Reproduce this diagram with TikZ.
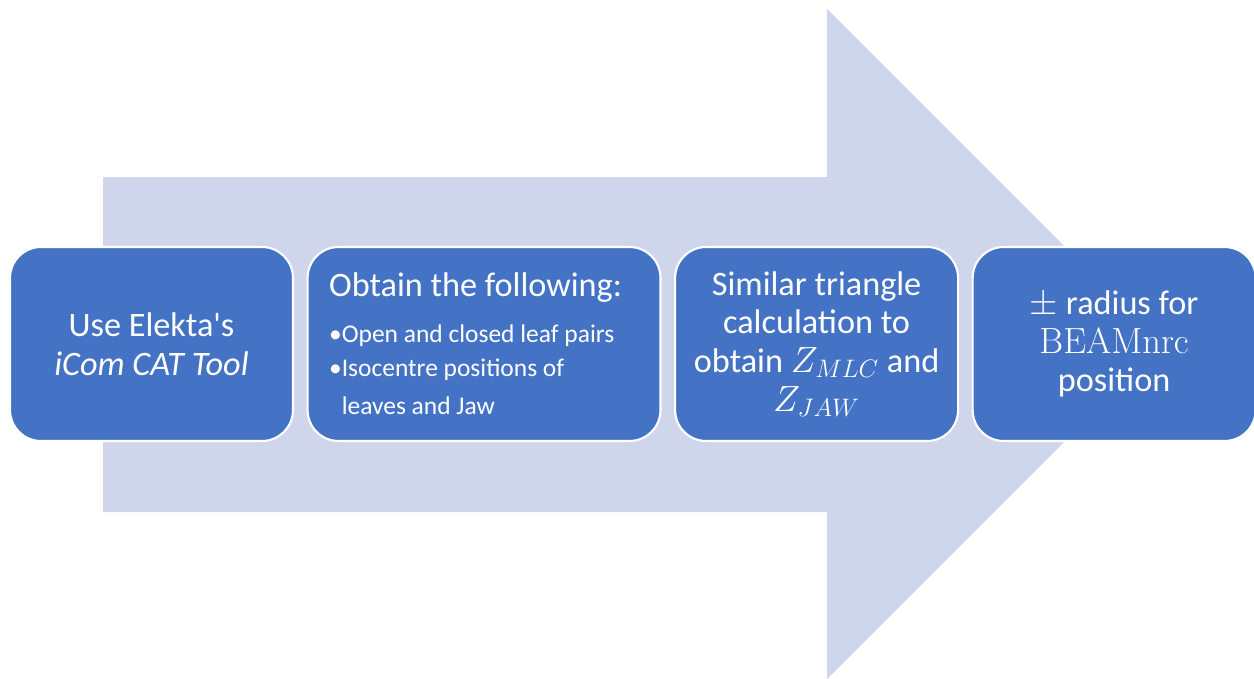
\documentclass[tikz,border=0pt]{standalone}
\usepackage[no-math]{fontspec}
\setmainfont{Carlito}
\usetikzlibrary{positioning}
\definecolor{stageblue}{RGB}{68,114,196}
\definecolor{shaftlilac}{RGB}{207,213,234}

\begin{document}
\begin{tikzpicture}[x=0.02cm, y=-0.02cm, node distance=0.25cm,
  every node/.style={text=white, font=\fontsize{19.5}{22}\selectfont},
  stage/.style={draw=white, line width=1.2pt, fill=stageblue, rounded corners=0.62cm,
                minimum width=5.66cm, minimum height=3.88cm, inner sep=0pt,
                text width=5.3cm, align=flush center},
  wide/.style={stage, minimum width=7.06cm, text width=6.2cm, align=flush left}]
\useasboundingbox (0,0) rectangle (1254,679);

% the big flat arrow behind the steps
\fill[shaftlilac] (103,177) -- (827,177) -- (827,9) -- (1162,344)
  -- (827,679) -- (827,512) -- (103,512) -- cycle;

\node[stage] (icom) at (151.5,344) {Use Elekta\textquotesingle s\\ \emph{iCom CAT Tool}};
\node[wide, right=of icom] (obtain) {Obtain the following:\\[10pt]
  \fontsize{14.5}{16}\selectfont
  \textbullet Open and closed leaf pairs\\[3pt]
  \textbullet Isocentre positions of\\
  \hphantom{\textbullet}leaves and Jaw};
\node[stage, right=of obtain] (simtri) {Similar triangle\\ calculation to\\
  obtain $Z_{MLC}$ and\\ $Z_{JAW}$};
\node[stage, right=of simtri] (radius) {$\pm$ radius for\\ $\mathrm{BEAMnrc}$\\ position};
\end{tikzpicture}
\end{document}
